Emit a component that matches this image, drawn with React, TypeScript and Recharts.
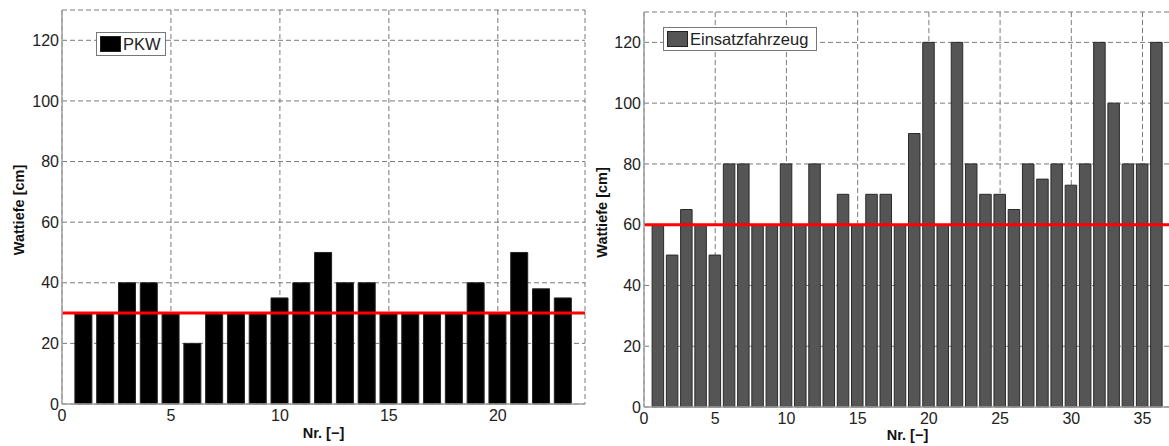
import React from 'react';
import {
  BarChart,
  Bar,
  XAxis,
  YAxis,
  CartesianGrid,
  ReferenceLine,
} from 'recharts';

// Wattiefe per vehicle
const pkwDepth = [30, 30, 40, 40, 30, 20, 30, 30, 30, 35, 40, 50, 40, 40, 30, 30, 30, 30, 40, 30, 50, 38, 35];
const einsatzDepth = [
  60, 50, 65, 60, 50, 80, 80, 60, 60, 80, 60, 80, 60, 70, 60, 70, 70, 60,
  90, 120, 60, 120, 80, 70, 70, 65, 80, 75, 80, 73, 80, 120, 100, 80, 80, 120,
];

const pkwXTicks = [0, 5, 10, 15, 20];
const einsatzXTicks = [0, 5, 10, 15, 20, 25, 30, 35];
const yTicks = [0, 20, 40, 60, 80, 100, 120];

const pkwLimit = 30;
const einsatzLimit = 60;

const pkwData = pkwDepth.map((v, i) => ({ nr: i + 1, depth: v }));
const einsatzData = einsatzDepth.map((v, i) => ({ nr: i + 1, depth: v }));

const FONT = '"Liberation Sans", Arial, sans-serif';
const frameColor = '#a0a0a0';
const gridColor = '#7a7a7a';
const tickStyle = { fontSize: 16, fill: '#222', fontFamily: FONT };

const yLabel = (cx: number) => (props: any) => {
  const vb = props.viewBox;
  const cy = vb.y + vb.height / 2 + 3;
  return (
    <text
      x={cx}
      y={cy}
      transform={`rotate(-90 ${cx} ${cy})`}
      textAnchor="middle"
      dominantBaseline="central"
      fontFamily={FONT}
      fontWeight="bold"
      fontSize={14.5}
      fill="#111"
    >
      Wattiefe [cm]
    </text>
  );
};

const xLabel = (dy: number) => (props: any) => {
  const vb = props.viewBox;
  return (
    <text
      x={vb.x + vb.width / 2}
      y={vb.y + dy}
      textAnchor="middle"
      dominantBaseline="central"
      fontFamily={FONT}
      fontWeight="bold"
      fontSize={14.5}
      fill="#111"
    >
      Nr. [−]
    </text>
  );
};

const LegendBox: React.FC<{ left: number; top: number; width: number; color: string; text: string }> = ({
  left,
  top,
  width,
  color,
  text,
}) => (
  <div
    style={{
      position: 'absolute',
      left,
      top,
      width,
      height: 24,
      boxSizing: 'border-box',
      border: '1px solid #777',
      background: '#fff',
      display: 'flex',
      alignItems: 'center',
      paddingLeft: 3,
      fontFamily: FONT,
      fontSize: 16.5,
      color: '#222',
      zIndex: 2,
    }}
  >
    <span
      style={{
        display: 'inline-block',
        width: 21,
        height: 16,
        boxSizing: 'border-box',
        background: color,
        border: '1px solid #222',
        marginRight: 2,
      }}
    />
    {text}
  </div>
);

const App: React.FC = () => {
  return (
    <div
      style={{
        position: 'absolute',
        left: 0,
        top: 0,
        width: 1169,
        height: 446,
        overflow: 'hidden',
        background: '#fff',
      }}
    >
      <div style={{ position: 'absolute', left: 0, top: 0 }}>
        <BarChart width={590} height={446} data={pkwData} margin={{ top: 10, right: 5, left: 0, bottom: 0 }}>
          <CartesianGrid stroke={gridColor} strokeDasharray="5 3" />
          <XAxis
            dataKey="nr"
            type="number"
            domain={[0, 24]}
            ticks={pkwXTicks}
            height={42}
            tickSize={0}
            tickMargin={6}
            tick={tickStyle}
            axisLine={{ stroke: frameColor, strokeWidth: 1.5 }}
            label={{ content: xLabel(29) }}
          />
          <XAxis xAxisId="top" orientation="top" type="number" domain={[0, 24]} height={0} tick={false} tickLine={false} axisLine={{ stroke: frameColor, strokeWidth: 1.5 }} />
          <YAxis
            type="number"
            domain={[0, 130]}
            ticks={yTicks}
            width={62}
            tickSize={0}
            tickMargin={3}
            tick={tickStyle}
            axisLine={{ stroke: frameColor, strokeWidth: 1.5 }}
            label={{ content: yLabel(19) }}
          />
          <YAxis yAxisId="right" orientation="right" type="number" domain={[0, 130]} width={0} tick={false} tickLine={false} axisLine={{ stroke: frameColor, strokeWidth: 1.5 }} />
          <Bar dataKey="depth" fill="#000" stroke="#222" strokeWidth={1} barSize={17} isAnimationActive={false} />
          <ReferenceLine y={pkwLimit} stroke="#ff0000" strokeWidth={3} />
        </BarChart>
        <LegendBox left={96} top={32} width={70} color="#000" text="PKW" />
      </div>

      <div style={{ position: 'absolute', left: 590, top: 0 }}>
        <BarChart width={590} height={446} data={einsatzData} margin={{ top: 12, right: 9, left: 0, bottom: 0 }}>
          <CartesianGrid stroke={gridColor} strokeDasharray="5 3" />
          <XAxis
            dataKey="nr"
            type="number"
            domain={[0, 37]}
            ticks={einsatzXTicks}
            height={39}
            tickSize={0}
            tickMargin={6}
            tick={tickStyle}
            axisLine={{ stroke: frameColor, strokeWidth: 1.5 }}
            label={{ content: xLabel(28) }}
          />
          <XAxis xAxisId="top" orientation="top" type="number" domain={[0, 37]} height={0} tick={false} tickLine={false} axisLine={{ stroke: frameColor, strokeWidth: 1.5 }} />
          <YAxis
            type="number"
            domain={[0, 130]}
            ticks={yTicks}
            width={54}
            tickSize={0}
            tickMargin={3}
            tick={tickStyle}
            axisLine={{ stroke: frameColor, strokeWidth: 1.5 }}
            label={{ content: yLabel(11.5) }}
          />
          <Bar dataKey="depth" fill="#555555" stroke="#2a2a2a" strokeWidth={1} barSize={11.5} isAnimationActive={false} />
          <ReferenceLine y={einsatzLimit} stroke="#ff0000" strokeWidth={3} />
        </BarChart>
        <LegendBox left={73} top={27} width={154} color="#555555" text="Einsatzfahrzeug" />
      </div>
    </div>
  );
};

export default App;
